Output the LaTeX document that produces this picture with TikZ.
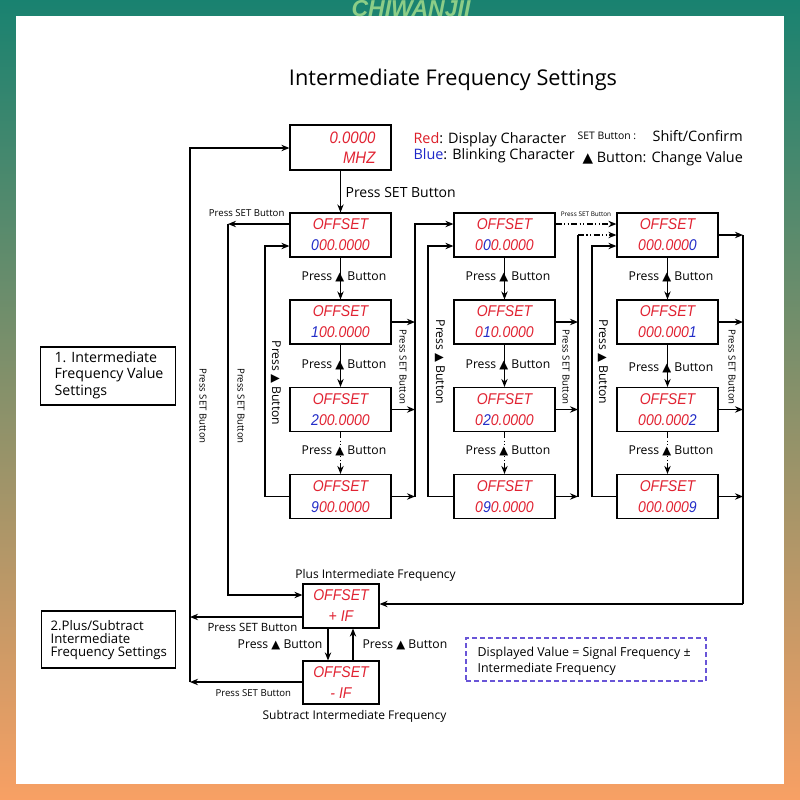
\documentclass[tikz,border=0pt]{standalone}
\usepackage{fontspec}
\usepackage{graphicx}
\setmainfont{Open Sans}
\newfontfamily\seg[FakeStretch=0.9]{Liberation Sans}
\newfontfamily\sym{DejaVu Sans}
\newfontfamily\wmfont{Liberation Sans}
\usetikzlibrary{arrows.meta}
\definecolor{segred}{RGB}{225,35,50}
\definecolor{segblue}{RGB}{35,45,200}
\definecolor{legred}{RGB}{220,30,40}
\definecolor{legblue}{RGB}{30,40,200}
\definecolor{dashblue}{RGB}{105,85,215}
\definecolor{bordtop}{RGB}{25,130,112}
\definecolor{bordbot}{RGB}{248,160,100}
\definecolor{wmgreen}{RGB}{140,205,135}
\newcommand\rd[1]{\textcolor{segred}{#1}}
\newcommand\bl[1]{\textcolor{segblue}{#1}}
\newcommand\tri{\raisebox{0.02em}{\scalebox{0.95}{\sym ▲}}}
\begin{document}
\begin{tikzpicture}[x=0.5pt,y=-0.5pt,line width=0.6pt,
  disp/.style={draw,line width=0.6pt,minimum width=50.5pt,minimum height=22pt,inner sep=0pt,align=center,font=\seg\itshape\fontsize{7.8}{10.5}\selectfont,text=segred},
  arr/.style={-{Stealth[length=4pt,width=3.2pt]}},
  ddot/.style={dash pattern=on 3pt off 1.2pt on 0.6pt off 1.2pt on 0.6pt off 1.2pt},
  lab/.style={font=\fontsize{6.1}{7}\selectfont,inner sep=0pt},
  mlab/.style={font=\fontsize{5.7}{7}\selectfont,inner sep=0pt},
  slab/.style={font=\fontsize{4.8}{6}\selectfont,inner sep=0pt},
  tlab/.style={font=\fontsize{3.2}{4}\selectfont,inner sep=0pt},
  leg/.style={font=\fontsize{7.2}{8}\selectfont,inner sep=0pt,anchor=west}]
\useasboundingbox (0,0) rectangle (800,800);
% frame
\shade[top color=bordtop,bottom color=bordbot] (0,0) rectangle (800,800);
\fill[white] (16,16) rectangle (784,784);
\node[font=\wmfont\bfseries\itshape\fontsize{11.5}{13}\selectfont,text=wmgreen,inner sep=0pt] (wm) at (411,9) {CHIWANJII};
% title and legend
\node[font=\fontsize{10.85}{12}\selectfont,inner sep=0pt] (title) at (453,80) {Intermediate Frequency Settings};
\node[leg] (leg1) at (413,140) {\textcolor{legred}{Red}: Display Character};
\node[leg] (leg2) at (413,156) {\textcolor{legblue}{Blue}: Blinking Character};
\node[slab,anchor=west,font=\fontsize{5.2}{6}\selectfont] (leg3) at (577,136) {SET Button :};
\node[leg] (leg4) at (652,136) {Shift/Confirm};
\node[leg] (leg5) at (582,159) {\tri\ Button: Change Value};
% top display
\node[draw,minimum width=50.5pt,minimum height=22.5pt,inner sep=0pt] (top) at (340.5,147.5) {};
\node[anchor=east,align=right,inner sep=0pt,font=\seg\itshape\fontsize{8.3}{10}\selectfont,text=segred] (topt) at (376,148) {0.0000\\MHZ};
% columns
\node[disp] (a1) at (340.5,235) {OFFSET\\\bl{0}00.0000};
\node[disp] (a2) at (340.5,322) {OFFSET\\\bl{1}00.0000};
\node[disp] (a3) at (340.5,409.5) {OFFSET\\\bl{2}00.0000};
\node[disp] (a4) at (340.5,496.5) {OFFSET\\\bl{9}00.0000};
\node[disp] (b1) at (504.5,235) {OFFSET\\0\bl{0}0.0000};
\node[disp] (b2) at (504.5,322) {OFFSET\\0\bl{1}0.0000};
\node[disp] (b3) at (504.5,409.5) {OFFSET\\0\bl{2}0.0000};
\node[disp] (b4) at (504.5,496.5) {OFFSET\\0\bl{9}0.0000};
\node[disp] (c1) at (667.5,235) {OFFSET\\000.000\bl{0}};
\node[disp] (c2) at (667.5,322) {OFFSET\\000.000\bl{1}};
\node[disp] (c3) at (667.5,409.5) {OFFSET\\000.000\bl{2}};
\node[disp] (c4) at (667.5,496.5) {OFFSET\\000.000\bl{9}};
% plus / subtract
\node[disp,minimum width=38pt] (plus) at (341,606) {OFFSET\\+ IF};
\node[disp,minimum width=38pt,minimum height=21.5pt] (sub) at (341,682.5) {OFFSET\\- IF};
\node[mlab,font=\fontsize{6}{7}\selectfont] (plusl) at (375.5,575) {Plus Intermediate Frequency};
\node[mlab,font=\fontsize{6}{7}\selectfont] (subl) at (354.5,716) {Subtract Intermediate Frequency};
% section boxes
\node[draw,minimum width=67.5pt,minimum height=29pt,inner sep=0pt] (s1) at (108,376) {};
\node[anchor=west,inner sep=0pt,align=left,font=\fontsize{7.1}{8.25}\selectfont] (s1t) at (54,375) {1. Intermediate\\Frequency Value\\Settings};
\node[draw,minimum width=67pt,minimum height=28.5pt,inner sep=0pt] (s2) at (108.5,639.5) {};
\node[anchor=west,inner sep=0pt,align=left,font=\fontsize{6.6}{6.5}\selectfont] (s2t) at (50,640) {2.Plus/Subtract\\Intermediate\\Frequency Settings};
% dashed note
\node[draw=dashblue,dash pattern=on 2.5pt off 1.5pt,line width=0.7pt,minimum width=120pt,minimum height=21.5pt,inner sep=0pt] (note) at (586,659.5) {};
\node[anchor=west,inner sep=0pt,align=left,font=\fontsize{6.2}{8}\selectfont] (notet) at (477,661) {Displayed Value = Signal Frequency ±\\Intermediate Frequency};
% coordinates
\coordinate (hy224) at (0,224);
\coordinate (hy246) at (0,246);
\coordinate (v0t) at (228,224);
\coordinate (v0b) at (228,595);
\coordinate (o1) at (190,617);
\coordinate (o2) at (190,682);
\coordinate (o3) at (190,148);
\coordinate (l1) at (265,246);
\coordinate (l2) at (428,246);
\coordinate (l3) at (592,246);
\coordinate (v1t) at (415,224);
\coordinate (v1b) at (415,496.5);
\coordinate (v2t) at (578,235);
\coordinate (v2b) at (578,496.5);
\coordinate (v3t) at (743,235);
\coordinate (v3b) at (743,604);
% main down arrow
\draw[arr] (top) -- (a1);
\node[anchor=west,font=\fontsize{7}{8}\selectfont,inner sep=0pt] (l0) at (345,192) {Press SET Button};
% vertical arrows in columns
\draw[arr] (a1) -- (a2); \draw[arr] (a2) -- (a3); \draw[arr,ddot] (a3) -- (a4);
\draw[arr] (b1) -- (b2); \draw[arr] (b2) -- (b3); \draw[arr,ddot] (b3) -- (b4);
\draw[arr] (c1) -- (c2); \draw[arr] (c2) -- (c3); \draw[arr,ddot] (c3) -- (c4);
\node[lab] (pa1) at (344,277) {Press \tri\ Button};
\node[lab] (pa2) at (344,365) {Press \tri\ Button};
\node[lab] (pa3) at (344,451) {Press \tri\ Button};
\node[lab] (pb1) at (508,277) {Press \tri\ Button};
\node[lab] (pb2) at (508,365) {Press \tri\ Button};
\node[lab] (pb3) at (508,451) {Press \tri\ Button};
\node[lab] (pc1) at (671,277) {Press \tri\ Button};
\node[lab] (pc2) at (671,368) {Press \tri\ Button};
\node[lab] (pc3) at (671,451) {Press \tri\ Button};
% column 1 right side
\draw[arr] (a2.east) -- (a2.east -| v1t);
\draw[arr] (a3.east) -- (a3.east -| v1t);
\draw[arr] (a4.east) -- (a4.east -| v1t);
\draw[arr] (v1b) -- (v1t) -- (v1t -| b1.west);
\node[slab,rotate=-90] (vr1) at (403,367) {Press SET Button};
% column 2 right side
\draw[arr] (b2.east) -- (b2.east -| v2t);
\draw[arr] (b3.east) -- (b3.east -| v2t);
\draw[arr] (b4.east) -- (b4.east -| v2t);
\draw (v2b) -- (v2t);
\draw[arr,ddot] (v2t) -- (v2t -| c1.west);
\draw[arr,ddot] (b1.east |- hy224) -- (c1.west |- hy224);
\node[tlab] (ts) at (586,214) {Press SET Button};
\node[slab,rotate=-90] (vr2) at (566,367) {Press SET Button};
% column 3 right side
\draw[arr] (c1.east) -- (c1.east -| v3t);
\draw[arr] (c2.east) -- (c2.east -| v3t);
\draw[arr] (c3.east) -- (c3.east -| v3t);
\draw[arr] (c4.east) -- (c4.east -| v3t);
\draw (v3t) -- (v3b);
\draw[arr] (v3b) -- (v3b -| plus.east);
\node[slab,rotate=-90] (vr3) at (732,367) {Press SET Button};
% left loops
\draw[arr] (a4.west) -- (a4.west -| l1) -- (l1) -- (l1 -| a1.west);
\draw[arr] (b4.west) -- (b4.west -| l2) -- (l2) -- (l2 -| b1.west);
\draw[arr] (c4.west) -- (c4.west -| l3) -- (l3) -- (l3 -| c1.west);
\node[lab,rotate=-90] (vl1) at (276,383) {Press \tri\ Button};
\node[lab,rotate=-90] (vl2) at (440,362) {Press \tri\ Button};
\node[lab,rotate=-90] (vl3) at (603,362) {Press \tri\ Button};
% first box left to plus
\draw[arr] (a1.west |- hy224) -- (v0t);
\node[slab,anchor=east] (tl) at (285,213) {Press SET Button};
\draw[arr] (v0t) -- (v0b) -- (v0b -| plus.west);
\node[slab,rotate=-90] (vs2) at (241,406) {Press SET Button};
% outer loop
\draw[arr] (plus.west |- o1) -- (o1);
\draw[arr] (sub.west |- o2) -- (o2);
\draw[arr] (o2) -- (o3) -- (o3 -| top.west);
\node[slab,rotate=-90] (vs1) at (203,406) {Press SET Button};
\node[mlab,anchor=west] (pl1) at (207,627) {Press SET Button};
\node[slab,anchor=west] (pl2) at (215,693) {Press SET Button};
% plus/sub arrows
\draw[arr] ([xshift=-6.5pt]plus.south) -- ([xshift=-6.5pt]sub.north);
\draw[arr] ([xshift=6pt]sub.north) -- ([xshift=6pt]plus.south);
\node[lab,anchor=east] (pm1) at (323,645) {Press \tri\ Button};
\node[lab,anchor=west] (pm2) at (362,645) {Press \tri\ Button};
\end{tikzpicture}
\end{document}
